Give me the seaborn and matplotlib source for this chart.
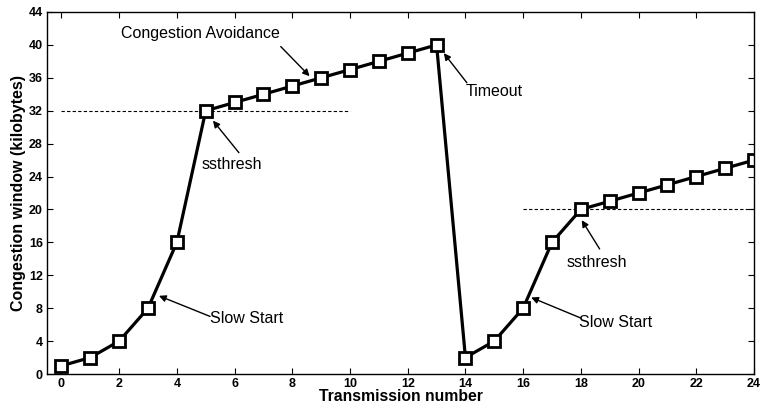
import pandas as pd
import matplotlib
matplotlib.use("Agg")
import matplotlib.pyplot as plt
import seaborn as sns

# Data
transmission = list(range(25))
cwnd = [1, 2, 4, 8, 16, 32, 33, 34, 35, 36, 37, 38, 39, 40,
        2, 4, 8, 16, 20, 21, 22, 23, 24, 25, 26]

thresh_levels = [32, 20]
thresh_start = [0, 16]
thresh_end = [10, 24]

x_ticks = list(range(0, 25, 2))
y_ticks = list(range(0, 45, 4))

# annotations: text, text position, arrow tip, arrow start
notes = [
    ("Congestion Avoidance", (4.8, 41.4), (8.6, 36.2), (7.6, 39.8)),
    ("ssthresh", (5.9, 25.5), (5.25, 30.8), (6.15, 26.9)),
    ("Timeout", (15.0, 34.3), (13.25, 39.0), (14.05, 35.4)),
    ("Slow Start", (6.42, 6.7), (3.38, 9.5), (5.15, 7.0)),
    ("Slow Start", (19.2, 6.3), (16.28, 9.3), (18.0, 6.8)),
    ("ssthresh", (18.57, 13.5), (18.03, 18.7), (18.65, 15.2)),
]

df = pd.DataFrame({"Transmission number": transmission, "cwnd": cwnd})

sns.set_style("ticks")
plt.rcParams["font.family"] = ["Liberation Sans", "DejaVu Sans"]
plt.rcParams.update({
    "text.color": "black", "axes.labelcolor": "black",
    "axes.edgecolor": "black", "xtick.color": "black", "ytick.color": "black",
})

fig = plt.figure(figsize=(7.62, 4.08), dpi=100)
ax = fig.add_axes([0.0617, 0.0833, 0.9278, 0.8873])

sns.lineplot(data=df, x="Transmission number", y="cwnd", ax=ax,
             color="black", linewidth=2.3, marker="s", markersize=8.2,
             markerfacecolor="white", markeredgecolor="black",
             markeredgewidth=2.0)

for lvl, x0, x1 in zip(thresh_levels, thresh_start, thresh_end):
    ax.plot([x0, x1], [lvl, lvl], color="black", linestyle="--",
            linewidth=0.8, dashes=(3, 2), zorder=1)

for text, txy, tip, start in notes:
    ax.text(txy[0], txy[1], text, fontsize=11.5, ha="center", va="center",
            color="black")
    ax.annotate("", xy=tip, xytext=start,
                arrowprops=dict(arrowstyle="-|>", color="black", lw=1.0,
                                mutation_scale=10, shrinkA=0, shrinkB=0))

ax.set_xlim(-0.5, 24)
ax.set_ylim(0, 44)
ax.set_xticks(x_ticks)
ax.set_yticks(y_ticks)
ax.tick_params(direction="in", top=True, right=True, length=4, width=0.8,
               labelsize=9, pad=3, colors="black")
for lab in ax.get_xticklabels() + ax.get_yticklabels():
    lab.set_fontweight("bold")
for sp in ax.spines.values():
    sp.set_visible(True)
    sp.set_linewidth(1.0)
    sp.set_color("black")

ax.set_xlabel("Transmission number", fontsize=11.3, fontweight="bold", labelpad=-1)
ax.set_ylabel("Congestion window (kilobytes)", fontsize=11.5, fontweight="bold",
              labelpad=2)

fig.savefig("out.png", dpi=100)
